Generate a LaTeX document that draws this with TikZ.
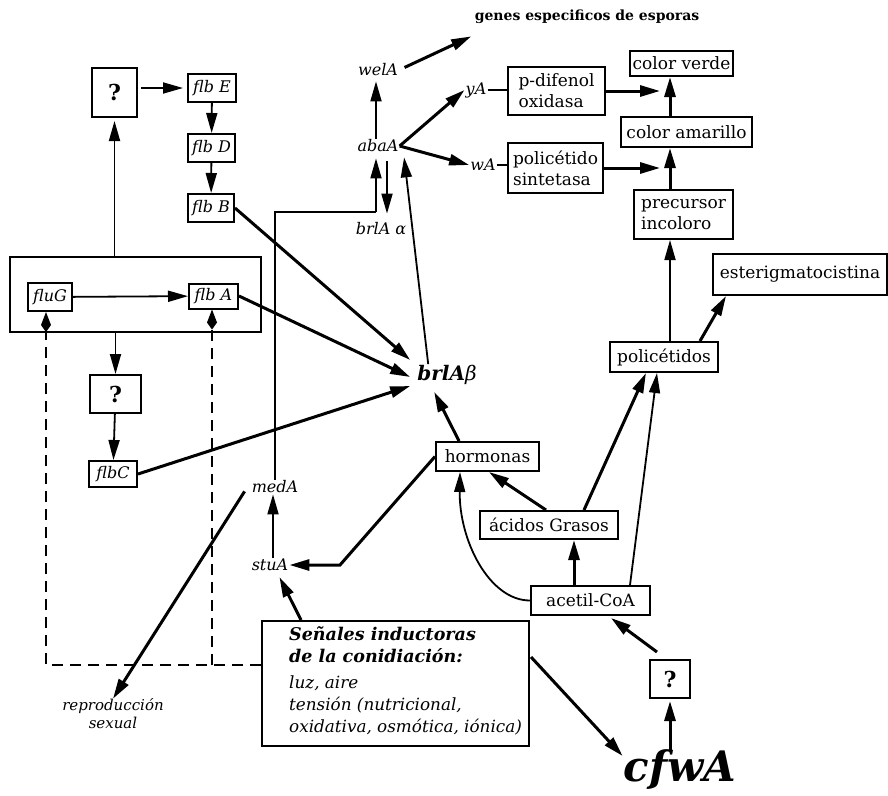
\documentclass[tikz,border=0pt]{standalone}
\usepackage{fontspec}
\setmainfont{DejaVu Serif}
\usetikzlibrary{arrows.meta,calc}
\newcommand\signalhead{\fontsize{17.5}{20}\selectfont\bfseries}
\tikzset{
  box/.style={draw, line width=2pt, inner sep=0pt, align=center, font=\fontsize{17}{21}\selectfont},
  lbox/.style={box, align=left},
  gbox/.style={box, font=\fontsize{16}{18}\selectfont\itshape},
  qbox/.style={draw, line width=2pt, inner sep=0pt, font=\fontsize{22}{24}\selectfont\bfseries},
  gene/.style={inner sep=1pt, font=\fontsize{16}{18}\selectfont\itshape},
  tip/.style={-{Triangle[length=20pt,width=11pt]}},
  heavy/.style={tip, line width=3pt},
  light/.style={tip, line width=1.8pt},
  plain/.style={line width=1.8pt},
  dashline/.style={line width=1.6pt, dash pattern=on 11pt off 7pt,
    -{Kite[length=20pt,width=10pt,inset=7pt]}},
}
\begin{document}
\begin{tikzpicture}[x=1pt,y=-1pt]
\useasboundingbox (0,0) rectangle (888,795);

% --- left module: flb genes ---
\node[qbox, minimum width=45pt, minimum height=49pt] (q1) at (114.5,92.5) {?};
\node[gbox, minimum width=48pt, minimum height=28pt] (flbE) at (212,88) {flb E};
\node[gbox, minimum width=47pt, minimum height=28pt] (flbD) at (211.5,148) {flb D};
\node[gbox, minimum width=46pt, minimum height=28pt] (flbB) at (211,208) {flb B};
\node[draw, line width=2pt, inner sep=0pt, minimum width=251pt, minimum height=75pt] (grp) at (135.5,294.5) {};
\node[gbox, minimum width=44pt, minimum height=28pt] (fluG) at (50,297) {fluG};
\node[gbox, minimum width=49pt, minimum height=25pt] (flbA) at (213.5,296) {flb A};
\node[qbox, minimum width=51pt, minimum height=38pt] (q2) at (115.5,394) {?};
\node[gbox, minimum width=48pt, minimum height=26pt] (flbC) at (113,474) {flbC};

% --- central genes ---
\node[font=\fontsize{14}{16}\selectfont\bfseries] (genes) at (587,17) {genes especificos de esporas};
\node[gene] (welA) at (378,70) {welA};
\node[gene] (abaA) at (378,146) {abaA};
\node[gene] (brlAa) at (381,229) {brlA α};
\node[gene] (yA) at (476,90) {yA};
\node[gene] (wA) at (483,165) {wA};
\node[gene] (medA) at (275,487) {medA};
\node[gene] (stuA) at (270,565) {stuA};
\node[inner sep=1pt, font=\fontsize{20}{22}\selectfont\itshape] (brlAb) at (447,375) {\textbf{brlA}β};

% --- pigment pathway ---
\node[lbox, minimum width=97pt, minimum height=48pt] (pdif) at (556.5,91) {p-difenol\\oxidasa};
\node[lbox, minimum width=95pt, minimum height=50pt] (polsin) at (555.5,168) {policétido\\sintetasa};
\node[box, minimum width=103pt, minimum height=25pt] (verde) at (681.5,63.5) {color verde};
\node[box, minimum width=131pt, minimum height=30pt] (amar) at (686.5,132) {color amarillo};
\node[lbox, minimum width=99pt, minimum height=49pt] (precur) at (683.5,214.5) {precursor\\incoloro};
\node[box, minimum width=174pt, minimum height=41pt] (ester) at (800,274.5) {esterigmatocistina};
\node[box, minimum width=108pt, minimum height=30pt] (polic) at (664,357) {policétidos};
\node[box, minimum width=103pt, minimum height=29pt] (hormonas) at (487.5,456.5) {hormonas};
\node[box, minimum width=138pt, minimum height=28pt] (acidos) at (549,525) {ácidos Grasos};
\node[box, minimum width=119pt, minimum height=29pt] (acetil) at (590.5,600.5) {acetil-CoA};
\node[qbox, minimum width=40pt, minimum height=38pt] (q3) at (670,679) {?};
\node[inner sep=0pt, font=\fontsize{42}{44}\selectfont\bfseries\itshape] (cfwA) at (680,770) {cfwA};

% --- signals ---
\node[draw, line width=2pt, inner sep=0pt, minimum width=267pt, minimum height=125pt] (senales) at (395.5,683.5) {};
\node[anchor=north west, align=left, inner sep=0pt,
      font=\fontsize{16.8}{22}\selectfont\itshape] (senalestxt) at (289,626)
  {\signalhead Señales inductoras\\\signalhead de la conidiación:\\[4pt]
   luz, aire\\tensión (nutricional,\\oxidativa, osmótica, iónica)};
\node[align=center, inner sep=0pt, font=\fontsize{15}{18}\selectfont\itshape] (repro) at (113,714) {reproducción\\sexual};

% --- connectors: flb module ---
\draw[light, shorten <=3pt, shorten >=4pt] (q1.east |- flbE) -- (flbE.west);
\draw[light] (flbE) -- (flbD);
\draw[light] (flbD) -- (flbB);
\draw[light, shorten >=3pt] (grp.north -| q1) -- (q1);
\draw[light] (fluG) -- (flbA);
\draw[light] (grp.south -| q2) -- (q2);
\draw[light] (q2) -- (flbC);
\draw[heavy] (flbB.east) -- ($(brlAb.west)+(-6,-15)$);
\draw[heavy] (flbA.east) -- ($(brlAb.west)+(-6,2)$);
\draw[heavy] (flbC.east) -- ($(brlAb.west)+(-6,11)$);

% dashed signal lines
\coordinate (dashy) at (0,665);
\draw[dashline] (senales.west |- dashy) -| ([xshift=-4pt]fluG.south);
\draw[dashline] ([xshift=-1.5pt]flbA.south |- dashy) -- ([xshift=-1.5pt]flbA.south);

% --- connectors: central genes ---
\coordinate (elb) at (376,212);
\draw[light, -] (medA.north) |- (elb);
\draw[light, shorten >=5pt] (elb) -- (elb |- abaA.south);
\draw[light, shorten <=8pt, shorten >=8pt] ([xshift=9pt]abaA.south) -- ([xshift=6pt]brlAa.north);
\draw[light, shorten >=4pt] ([xshift=-2pt]abaA.north) -- ([xshift=-2pt]welA.south);
\draw[heavy, shorten <=6pt] (welA.east) -- ($(genes.south west)+(0,9)$);
\draw[heavy] (abaA.east) -- (yA.west);
\draw[heavy] (abaA.east) -- (wA.west);
\draw[plain] (yA.east) -- (yA.east -| pdif.west);
\draw[plain] (wA.east) -- (wA.east -| polsin.west);
\draw[light, shorten >=4pt] ($(brlAb.north west)+(12,0)$) -- ([xshift=4pt]abaA.south east);
\draw[heavy] ($(hormonas.north west)+(24,0)$) -- ($(brlAb.south west)+(18,6)$);
\coordinate (hk) at (340,565);
\draw[heavy] (hormonas.west) -- (hk) -- (stuA.east);
\draw[light] ([xshift=3pt]stuA.north) -- ([xshift=-2pt]medA.south);
\draw[heavy] ($(medA.south west)+(-6,-3)$) -- (repro.north);
\draw[heavy] ($(senales.north west)+(40,0)$) -- ($(stuA.south east)+(-10,5)$);
\draw[heavy] ($(senales.north east)+(1,37)$) -- ($(cfwA.west)+(-1,-14)$);

% --- connectors: pigment pathway ---
\coordinate (colx) at (670,0);
\draw[heavy, shorten >=10pt] (pdif.east) -- (pdif.east -| colx);
\draw[heavy, shorten >=10pt] (polsin.east) -- (polsin.east -| colx);
\draw[heavy] (amar.north -| colx) -- (verde.south -| colx);
\draw[heavy] (precur.north -| colx) -- (amar.south -| colx);
\draw[light] (polic.north -| colx) -- (precur.south -| colx);
\draw[heavy] ($(polic.north)+(36,0)$) -- ($(ester.south west)+(14,0)$);
\draw[heavy, shorten >=2pt] (cfwA.north -| q3) -- (q3.south);
\draw[heavy] ($(q3.north west)+(8,-7)$) -- ($(acetil.south east)+(-40,2)$);
\draw[heavy] ($(acetil.north west)+(44,0)$) -- ($(acidos.south west)+(95,0)$);
\draw[light] ($(acetil.north west)+(100,0)$) -- ($(polic.south west)+(48,0)$);
\draw[heavy] ($(acidos.north west)+(105,0)$) -- ($(polic.south west)+(37,0)$);
\draw[heavy] ($(acidos.north west)+(67,0)$) -- ($(hormonas.south west)+(54,0)$);
\draw[light] (acetil.west) .. controls +(-41,0) and +(-1,68) .. ($(hormonas.south west)+(25,0)$);
\end{tikzpicture}
\end{document}
